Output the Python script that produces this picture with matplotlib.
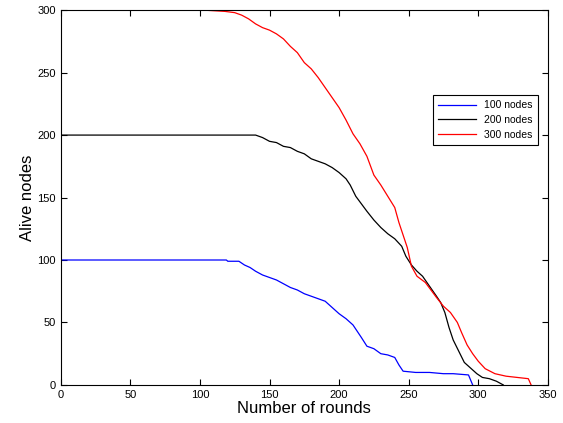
import matplotlib
matplotlib.use("Agg")
import matplotlib.pyplot as plt

plt.rcParams['font.family'] = ['Liberation Sans', 'DejaVu Sans']

# 100 nodes
x100 = [0, 119, 120, 128, 132, 136, 140, 145, 150, 155, 160, 165, 170, 175, 180,
        185, 190, 195, 200, 205, 210, 213, 216, 220, 225, 230, 235, 240, 243, 246,
        255, 265, 275, 282, 293, 296]
y100 = [100, 100, 99, 99, 96, 94, 91, 88, 86, 84, 81, 78, 76, 73, 71,
        69, 67, 62, 57, 53, 48, 43, 38, 31, 29, 25, 24, 22, 16, 11,
        10, 10, 9, 9, 8, 0]

# 200 nodes
x200 = [0, 140, 145, 150, 155, 160, 165, 170, 175, 180, 185, 190, 195, 200,
        205, 208, 212, 216, 220, 225, 230, 235, 240, 245, 248, 252, 256, 260,
        265, 270, 273, 276, 279, 282, 286, 290, 295, 299, 303, 308, 313, 318]
y200 = [200, 200, 198, 195, 194, 191, 190, 187, 185, 181, 179, 177, 174, 170,
        165, 160, 151, 145, 139, 132, 126, 121, 117, 111, 103, 96, 91, 87,
        79, 71, 66, 58, 46, 36, 27, 18, 13, 9, 6, 5, 3, 0]

# 300 nodes
x300 = [0, 103, 118, 125, 130, 135, 140, 145, 150, 155, 160, 165, 170, 175, 180,
        185, 190, 195, 200, 205, 210, 215, 220, 225, 230, 235, 240, 243, 246, 249,
        252, 256, 262, 266, 270, 275, 280, 285, 288, 292, 296, 300, 305, 312,
        320, 328, 336, 338]
y300 = [300, 300, 299, 298, 296, 293, 289, 286, 284, 281, 277, 271, 266, 258, 253,
        246, 238, 230, 222, 212, 201, 193, 183, 168, 160, 151, 142, 130, 120, 110,
        95, 87, 82, 76, 70, 63, 58, 50, 42, 32, 25, 19, 13, 9,
        7, 6, 5, 0]

fig = plt.figure(figsize=(5.63, 4.23), dpi=100)
ax = fig.add_axes([0.108, 0.09, 0.865, 0.886])
ax.plot(x100, y100, color='#0000ff', lw=0.9, label='100 nodes')
ax.plot(x200, y200, color='black', lw=0.9, label='200 nodes')
ax.plot(x300, y300, color='#ff0000', lw=0.9, label='300 nodes')

ax.set_xlim(0, 350)
ax.set_ylim(0, 300)
ax.set_xticks(range(0, 351, 50))
ax.set_yticks(range(0, 301, 50))
ax.tick_params(direction='in', top=True, right=True, labelsize=8, length=4)
ax.set_xlabel('Number of rounds', fontsize=12, labelpad=1)
ax.set_ylabel('Alive nodes', fontsize=12, labelpad=2)

leg = ax.legend(loc='upper right', bbox_to_anchor=(0.979, 0.773), fontsize=7.5,
                fancybox=False, edgecolor='black', framealpha=1, borderaxespad=0,
                handlelength=3.6, borderpad=0.5, labelspacing=0.45)
leg.get_frame().set_linewidth(0.8)

fig.savefig('out.png', dpi=100)
